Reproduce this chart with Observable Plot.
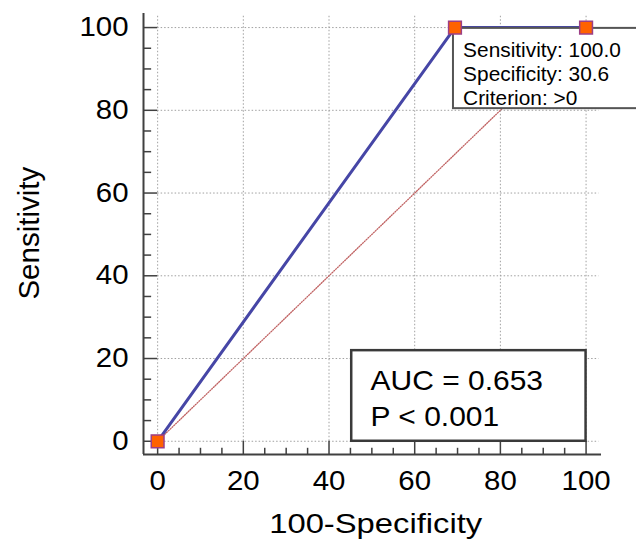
<!DOCTYPE html>
<html>
<head>
<meta charset="utf-8">
<script src="https://cdn.jsdelivr.net/npm/d3@7"></script>
<script src="https://cdn.jsdelivr.net/npm/@observablehq/plot@0.6"></script>
<style>
  html, body { margin: 0; padding: 0; background: #fff; }
  #chart svg { display: block; }
</style>
</head>
<body>
<div id="chart"></div>
<script>
// ---- data ----
const rocX = [0, 69.4, 100];          // 100 - Specificity
const rocY = [0, 100, 100];           // Sensitivity
const diagonal = [0, 100];
const majorTicks = [0, 20, 40, 60, 80, 100];
const minorTicks = [5, 10, 15, 25, 30, 35, 45, 50, 55, 65, 70, 75, 85, 90, 95];
const tooltipLines = ["Sensitivity: 100.0", "Specificity: 30.6", "Criterion: >0"];
const statLines = ["AUC = 0.653", "P < 0.001"];
const xLabel = "100-Specificity";
const yLabel = "Sensitivity";

// ---- layout constants (data units) ----
const X0 = -3.3, X1 = 103.6, Y0 = -3.2, Y1 = 103.4;
const FONT = "Liberation Sans, Arial, Helvetica, sans-serif";
const AXIS = "#404040";

const roc = rocX.map((x, i) => ({x, y: rocY[i]}));

const chart = Plot.plot({
  width: 636,
  height: 541,
  marginLeft: 143,
  marginRight: 35,
  marginTop: 13,
  marginBottom: 87,
  x: {domain: [X0, X1], axis: null},
  y: {domain: [Y0, Y1], axis: null},
  style: {fontFamily: FONT, background: "#fff", color: "#000"},
  marks: [
    // grid
    Plot.ruleY(majorTicks, {y: d => d, x1: 0, x2: 103, stroke: "#a0a0a0", strokeDasharray: "1.5,2", strokeWidth: 1}),
    Plot.ruleX(majorTicks, {x: d => d, y1: 0, y2: 103.2, stroke: "#a0a0a0", strokeDasharray: "1.5,2", strokeWidth: 1}),
    // axis lines
    Plot.ruleX([X0], {y1: Y0, y2: Y1, stroke: AXIS, strokeWidth: 2}),
    Plot.ruleY([Y0], {x1: X0, x2: X1, stroke: AXIS, strokeWidth: 2}),
    // y ticks
    Plot.ruleY(majorTicks, {y: d => d, x1: X0, x2: 0, stroke: AXIS, strokeWidth: 1.5}),
    Plot.ruleY(minorTicks, {y: d => d, x1: X0, x2: X0 + 1.9, stroke: AXIS, strokeWidth: 1.5}),
    // x ticks
    Plot.ruleX(majorTicks, {x: d => d, y1: Y0, y2: 0, stroke: AXIS, strokeWidth: 1.5}),
    Plot.ruleX(minorTicks, {x: d => d, y1: Y0, y2: Y0 + 1.5, stroke: AXIS, strokeWidth: 1.5}),
    // tick labels
    Plot.text(majorTicks, {x: X0, y: d => d, text: d => String(d), textAnchor: "end", dx: -15, fontSize: 27, fill: "#000"}),
    Plot.text(majorTicks, {x: d => d, y: Y0, text: d => String(d), dy: 27, fontSize: 27, fill: "#000"}),
    // axis titles
    Plot.text([xLabel], {x: 50.9, y: Y0, text: d => d, dy: 70, fontSize: 28, fill: "#000"}),
    Plot.text([yLabel], {x: X0, y: 50.3, text: d => d, dx: -114, rotate: -90, fontSize: 29.5, fill: "#000"}),
    // chance diagonal
    Plot.line(diagonal, {x: d => d, y: d => d, stroke: "#c06262", strokeDasharray: "1,1.5", strokeWidth: 1.3}),
    // ROC curve
    Plot.line(roc, {x: "x", y: "y", stroke: "#4646a6", strokeWidth: 3}),
    // stats box
    Plot.rect([0], {x1: 45.3, x2: 100, y1: 0, y2: 21.9, fill: "#fff", stroke: "#3a3a3a", strokeWidth: 2.5}),
    Plot.text([statLines.join("\n")], {x: 49.7, y: 18.4, text: d => d, textAnchor: "start", lineAnchor: "top", lineHeight: 1.32, fontSize: 27, fill: "#000"}),
    // tooltip box
    Plot.rect([0], {x1: 69.05, x2: 115, y1: 80.4, y2: 99.8, fill: "#fff", stroke: "#555", strokeWidth: 2}),
    Plot.text([tooltipLines.join("\n")], {x: 71.3, y: 97.1, text: d => d, textAnchor: "start", lineAnchor: "top", lineHeight: 1.24, fontSize: 19.5, fill: "#000"}),
    // points
    Plot.dot(roc, {x: "x", y: "y", symbol: "square", r: 7.2, fill: "#ff6200", stroke: "#9c3f86", strokeWidth: 1.5})
  ]
});

// The reference's lettering is slightly wider than Arial: stretch each text group horizontally.
const stretch = [1.09, 1.09, 1.17, 1, 1.11, 1.07];
chart.querySelectorAll('g[aria-label="text"]').forEach((g, i) => {
  const s = stretch[i] ?? 1;
  if (s === 1) return;
  g.querySelectorAll("text").forEach(t => {
    const tr = t.getAttribute("transform") || "";
    t.setAttribute("transform", `${tr} scale(${s},1)`);
  });
});

document.getElementById("chart").append(chart);
</script>
</body>
</html>
